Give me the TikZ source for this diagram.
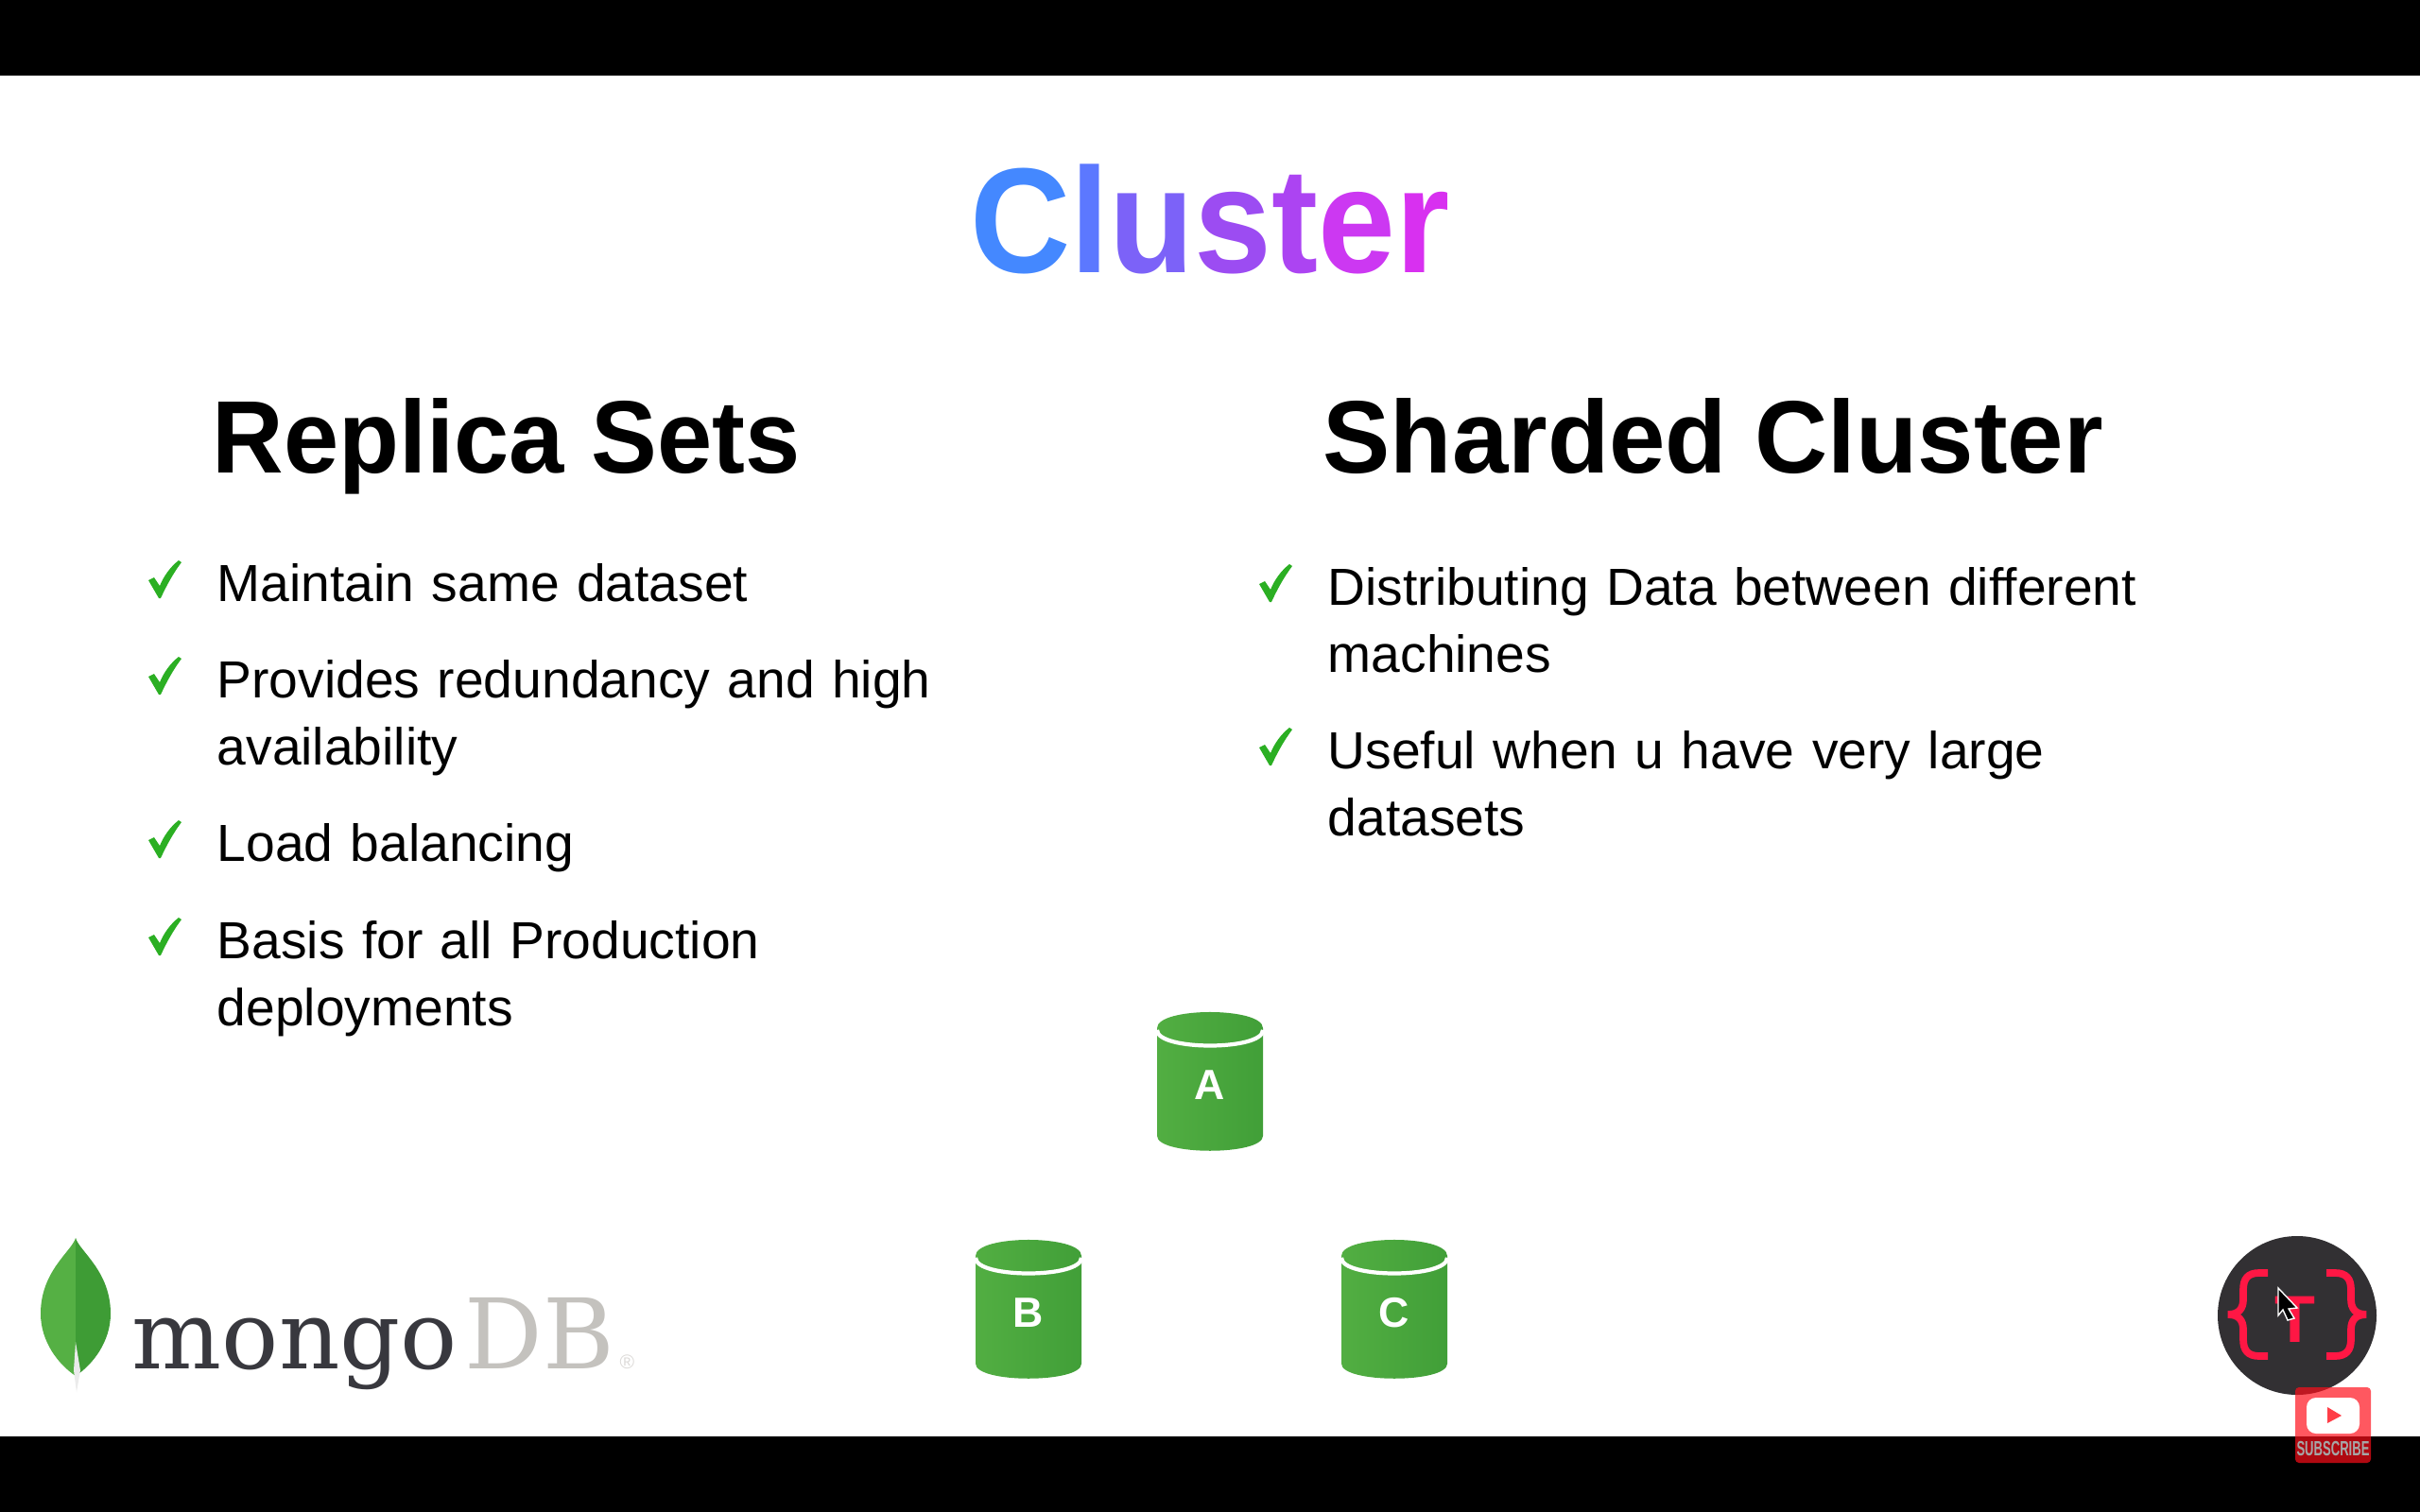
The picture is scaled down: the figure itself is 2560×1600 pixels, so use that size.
\documentclass[tikz,border=0pt]{standalone}
\usepackage{fontspec}
\setmainfont{Liberation Sans}
\newfontfamily\logofont{DejaVu Serif}
\definecolor{dbgreena}{HTML}{52AE42}
\definecolor{dbgreenb}{HTML}{419F38}
\definecolor{tickgreen}{HTML}{2BAF23}
\definecolor{leafa}{HTML}{55B044}
\definecolor{leafb}{HTML}{3E9C35}
\definecolor{mongodark}{HTML}{38383E}
\definecolor{mongogrey}{HTML}{C4C2BE}
\definecolor{logodark}{HTML}{323033}
\definecolor{logored}{HTML}{FF1744}
\definecolor{subred}{RGB}{255,14,25}
\definecolor{titlea}{HTML}{4488FF}
\definecolor{titleb}{HTML}{5C78FF}
\definecolor{titlec}{HTML}{7C62F8}
\definecolor{titled}{HTML}{9C4CF2}
\definecolor{titlee}{HTML}{AC44F2}
\definecolor{titlef}{HTML}{CC38F2}
\definecolor{titleg}{HTML}{D830F0}
\tikzset{
    head/.style={anchor=base west,inner sep=0,font=\bfseries\fontsize{31}{31}\selectfont,transform shape},
    item/.style={anchor=base west,inner sep=0,text width=1200,align=left,font=\fontsize{15.7}{20.4}\selectfont},
    dblabel/.style={anchor=base,inner sep=0,text=white,font=\bfseries\fontsize{12.7}{12.7}\selectfont},
    dbcyl/.pic={
        \shade[left color=dbgreena,right color=dbgreenb] (-56,17) .. controls (-56,-5.7) and (56,-5.7) .. (56,17) -- (56,131) .. controls (56,152) and (-56,152) .. (-56,131) -- cycle;
        \draw[white,line width=1.2pt] (-56,19) .. controls (-56,41) and (56,41) .. (56,19);
    },
    tick/.pic={
        \fill[tickgreen] (-4,20) -- (2,17) .. controls (4,20) and (6,23) .. (8,26) .. controls (12,16) and (19,6) .. (28,-1) -- (31,1) .. controls (22,13) and (15,26) .. (9,39) -- (7,39) -- cycle;
    }
}
\begin{document}
\begin{tikzpicture}[x=0.01cm,y=-0.01cm]
    \useasboundingbox (0,0) rectangle (2560,1600);
    \fill[white] (0,0) rectangle (2560,1600);
    \fill[black] (0,0) rectangle (2560,80);
    \fill[black] (0,1520) rectangle (2560,1600);
    \node[anchor=base,inner sep=0,font=\bfseries\fontsize{45}{45}\selectfont,xscale=.93,transform shape] (title) at (1280,288) {\textcolor{titlea}{C}\textcolor{titleb}{l}\textcolor{titlec}{u}\textcolor{titled}{s}\textcolor{titlee}{t}\textcolor{titlef}{e}\textcolor{titleg}{r}};
    \node[head,xscale=.96] (replica) at (224,500) {Replica Sets};
    \node[head,xscale=.98] (sharded) at (1399,500) {Sharded Cluster};
    %left column, then right column
    \foreach \n/\x/\y/\t in {m/229/636/{Maintain same dataset},
        p/229/738/{Provides redundancy and high\\availability},
        l/229/911/{Load balancing},
        b/229/1014/{Basis for all Production\\deployments},
        d/1404/640/{Distributing Data between different\\machines},
        u/1404/813/{Useful when u have very large\\datasets}} {
        \node[item] (\n) at (\x,\y) {\t};
        \pic at (\x-68,\y-42) {tick};
    }
    \foreach \n/\x/\y/\t in {a/1280/1071/A,b/1088/1312/B,c/1475/1312/C} {
        \pic at (\x,\y) {dbcyl};
        \node[dblabel] (db\n) at (\x,\y+92) {\t};
    }
    %leaf
    \fill[leafa] (80,1310) .. controls (76,1324) and (43,1345) .. (43,1390) .. controls (43,1420) and (62,1444) .. (80,1456) -- cycle;
    \fill[leafb] (80,1310) .. controls (84,1324) and (117,1345) .. (117,1390) .. controls (117,1420) and (98,1444) .. (80,1456) -- cycle;
    \fill[black!8!white] (80,1420) -- (85,1450) -- (81,1473) -- (78,1450) -- cycle;
    \node[anchor=base west,inner sep=0,text=mongodark,font=\logofont\fontsize{28.5}{28.5}\selectfont] (mongo) at (139,1448) {mongo};
    \node[anchor=base west,inner sep=0,text=mongogrey,font=\logofont\fontsize{29.3}{29.3}\selectfont] (db) at (491,1448) {DB};
    \node[anchor=base west,inner sep=0,text=mongogrey!60!white,font=\fontsize{6}{6}\selectfont] (reg) at (655,1448) {®};
    %channel logo
    \node[circle,fill=logodark,inner sep=0,minimum size=168*0.01cm] (logo) at (2430,1392) {};
    \draw[logored,line width=2.2pt] (2399,1347) -- (2390,1347) .. controls (2378,1347) and (2373,1353) .. (2373,1365) -- (2373,1375) .. controls (2373,1385) and (2368,1391) .. (2357,1391) .. controls (2368,1391) and (2373,1397) .. (2373,1407) -- (2373,1417) .. controls (2373,1429) and (2378,1435) .. (2390,1435) -- (2399,1435);
    \draw[logored,line width=2.2pt] (2461,1347) -- (2470,1347) .. controls (2482,1347) and (2487,1353) .. (2487,1365) -- (2487,1375) .. controls (2487,1385) and (2492,1391) .. (2503,1391) .. controls (2492,1391) and (2487,1397) .. (2487,1407) -- (2487,1417) .. controls (2487,1429) and (2482,1435) .. (2470,1435) -- (2461,1435);
    \node[anchor=base,inner sep=0,text=logored,font=\bfseries\fontsize{20}{20}\selectfont] (letter) at (2428,1420) {T};
    \filldraw[black,draw=white,line width=.4pt] (2410,1363) -- (2430,1384) -- (2421,1385) -- (2427,1395) -- (2420,1397) -- (2415,1386) -- (2410,1392) -- cycle;
    %subscribe badge
    \fill[subred,opacity=.69,rounded corners=4*0.01cm] (2428,1468) rectangle (2508,1548);
    \fill[white,rounded corners=10*0.01cm] (2440,1479) rectangle (2496,1517);
    \fill[subred!80!white] (2462,1489) -- (2477,1498) -- (2462,1506) -- cycle;
    \node[anchor=base,inner sep=0,text=black!35!white,font=\bfseries\fontsize{6.2}{6.2}\selectfont,xscale=.6,transform shape] (subscribe) at (2468,1540.7) {SUBSCRIBE};
\end{tikzpicture}
\end{document}
